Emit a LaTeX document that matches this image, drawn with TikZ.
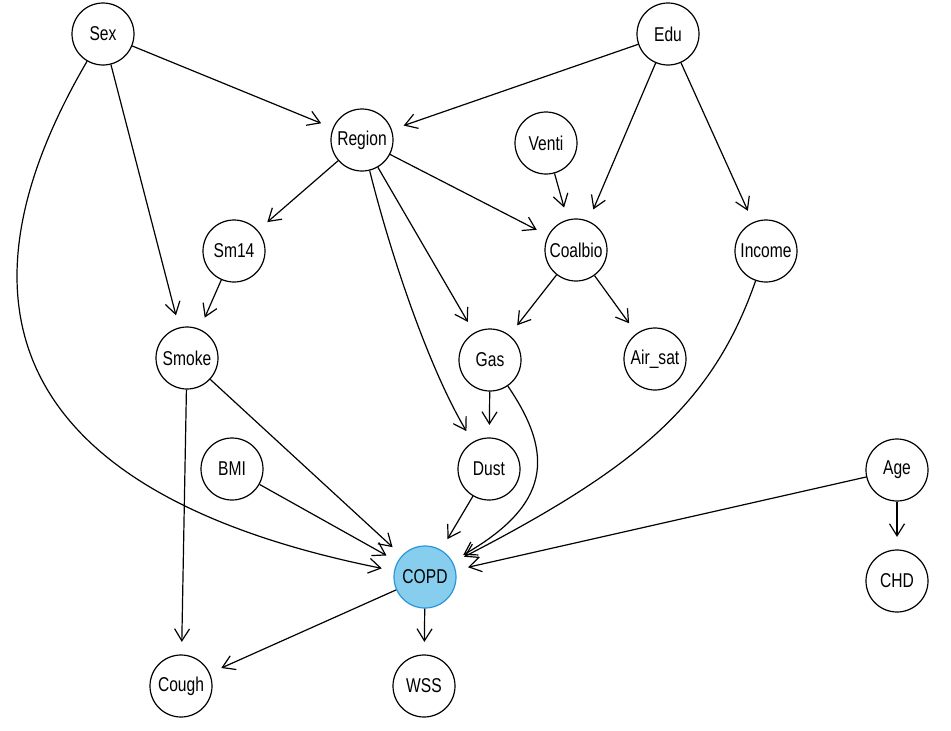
\documentclass[tikz,border=0pt]{standalone}
\usepackage{fontspec}
\newfontfamily\nodefont[FakeStretch=0.78]{Liberation Sans}
\usetikzlibrary{arrows.meta}
\definecolor{copdfill}{RGB}{135,206,238}
\definecolor{copdline}{RGB}{40,150,215}
\tikzset{
  nd/.style={circle, draw, line width=1.2pt, minimum size=62pt, inner sep=0pt,
    font={\nodefont\fontsize{20}{20}\selectfont}},
  arr/.style={-{Straight Barb[length=12pt,width=15pt,line width=1.2pt]},
    line width=1.2pt, shorten >=12.5pt},
}
\begin{document}
\begin{tikzpicture}[x=1pt,y=-1pt]
\useasboundingbox (0,0) rectangle (951,731);
\node[nd] (Sex) at (103,34) {Sex};
\node[nd] (Edu) at (668,34) {Edu};
\node[nd] (Region) at (362,140) {Region};
\node[nd] (Venti) at (546,143) {Venti};
\node[nd] (Sm14) at (234,251) {Sm14};
\node[nd] (Coalbio) at (576,250) {Coalbio};
\node[nd] (Income) at (766,251) {Income};
\node[nd] (Smoke) at (187,358) {Smoke};
\node[nd] (Gas) at (490,360) {Gas};
\node[nd] (Airsat) at (655,359) {Air\_sat};
\node[nd] (BMI) at (232,469) {BMI};
\node[nd] (Dust) at (489,469) {Dust};
\node[nd] (Age) at (897,470) {Age};
\node[nd, fill=copdfill, draw=copdline] (COPD) at (425,577) {COPD};
\node[nd] (CHD) at (897,581) {CHD};
\node[nd] (Cough) at (181,686) {Cough};
\node[nd] (WSS) at (424,686) {WSS};

\draw[arr] (Sex) -- (Region);
\draw[arr] (Sex) -- (Smoke);
\draw[arr] (Sex) .. controls (-70,330) and (41,500) .. (COPD);
\draw[arr] (Edu) -- (Region);
\draw[arr] (Edu) -- (Coalbio);
\draw[arr] (Edu) -- (Income);
\draw[arr] (Region) -- (Sm14);
\draw[arr] (Region) -- (Coalbio);
\draw[arr] (Region) -- (Gas);
\draw[arr] (Region) .. controls (392,260) and (430,370) .. (Dust);
\draw[arr] (Venti) -- (Coalbio);
\draw[arr] (Sm14) -- (Smoke);
\draw[arr] (Coalbio) -- (Gas);
\draw[arr] (Coalbio) -- (Airsat);
\draw[arr] (Smoke) -- (COPD);
\draw[arr] (Smoke) -- (Cough);
\draw[arr] (BMI) -- (COPD);
\draw[arr] (Gas) -- (Dust);
\draw[arr] (Gas) .. controls (555,455) and (550,505) .. (COPD);
\draw[arr] (Dust) -- (COPD);
\draw[arr] (Income) .. controls (713,403) and (638,467) .. (COPD);
\draw[arr] (Age) -- (COPD);
\draw[arr] (Age) -- (CHD);
\draw[arr] (COPD) -- (Cough);
\draw[arr] (COPD) -- (WSS);
\end{tikzpicture}
\end{document}
